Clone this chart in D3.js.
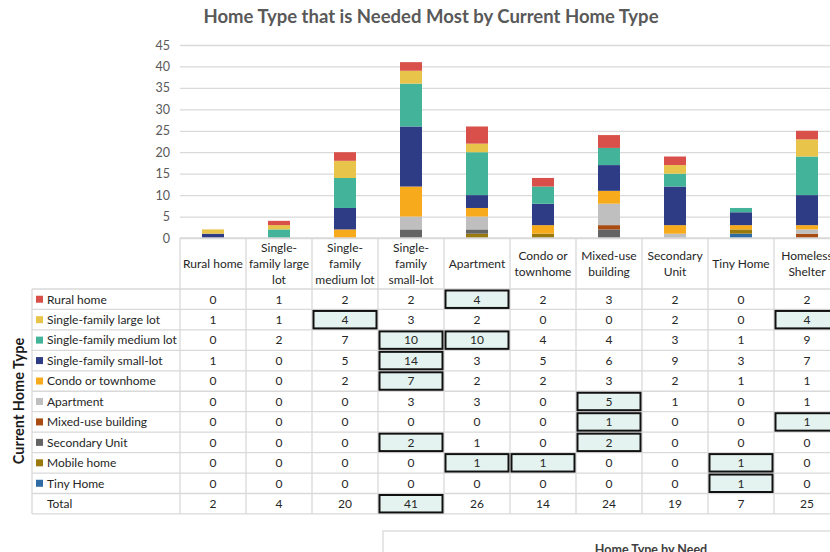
<!DOCTYPE html>
<html><head><meta charset="utf-8">
<script src="https://cdn.jsdelivr.net/npm/d3@7"></script>
<style>
html,body{margin:0;padding:0;background:#fff;overflow:hidden}
svg{display:block;font-family:Lato,"Open Sans",sans-serif}
</style></head>
<body><svg id="c" width="830" height="552"></svg>
<script>
const title = "Home Type that is Needed Most by Current Home Type";
const categories = ["Rural home","Single-family large lot","Single-family medium lot","Single-family small-lot","Apartment","Condo or townhome","Mixed-use building","Secondary Unit","Tiny Home","Homeless Shelter"];
const categoryLines = [["Rural home"],["Single-","family large","lot"],["Single-","family","medium lot"],["Single-","family","small-lot"],["Apartment"],["Condo or","townhome"],["Mixed-use","building"],["Secondary","Unit"],["Tiny Home"],["Homeless","Shelter"]];
const seriesNames = ["Rural home","Single-family large lot","Single-family medium lot","Single-family small-lot","Condo or townhome","Apartment","Mixed-use building","Secondary Unit","Mobile home","Tiny Home"];
const seriesColors = ["#D9504A","#E8C54A","#43B49A","#2E3C85","#F6AA1C","#BFBFBF","#A84C12","#646464","#9A7A0C","#2E6CA6"];
const ruralHome      = [0,1,2,2,4,2,3,2,0,2];
const largeLot       = [1,1,4,3,2,0,0,2,0,4];
const mediumLot      = [0,2,7,10,10,4,4,3,1,9];
const smallLot       = [1,0,5,14,3,5,6,9,3,7];
const condo          = [0,0,2,7,2,2,3,2,1,1];
const apartment      = [0,0,0,3,3,0,5,1,0,1];
const mixedUse       = [0,0,0,0,0,0,1,0,0,1];
const secondaryUnit  = [0,0,0,2,1,0,2,0,0,0];
const mobileHome     = [0,0,0,0,1,1,0,0,1,0];
const tinyHome       = [0,0,0,0,0,0,0,0,1,0];
const totals         = [2,4,20,41,26,14,24,19,7,25];
const yTicks = [0,5,10,15,20,25,30,35,40,45];
// highlighted cells: [row index (series, 10 = Total), column index]
const highlights = [[0,4],[1,2],[1,9],[2,3],[2,4],[3,3],[4,3],[5,6],[6,6],[6,9],[7,3],[7,6],[8,4],[8,5],[8,8],[9,8],[10,3]];
const yAxisTitle = "Current Home Type";
const bottomTitle = "Home Type by Need";

const values = [ruralHome,largeLot,mediumLot,smallLot,condo,apartment,mixedUse,secondaryUnit,mobileHome,tinyHome];

const svg = d3.select("#c");
const plotL = 180, plotR = 840, y0 = 238, y45 = 45;
const x = d3.scaleBand().domain(categories).range([plotL, plotR]).paddingInner(0).paddingOuter(0);
const y = d3.scaleLinear().domain([0,45]).range([y0, y45]);
const barW = 22;

// title
svg.append("text").attr("x",431).attr("y",23).attr("text-anchor","middle")
  .attr("font-size",18.5).attr("font-weight","bold").attr("fill","#595959").text(title);

// gridlines + y axis
const yAxis = d3.axisLeft(y).tickValues(yTicks).tickSize(-(830-plotL)).tickPadding(10);
const ga = svg.append("g").attr("transform",`translate(${plotL},0)`).call(yAxis);
ga.select(".domain").remove();
ga.selectAll(".tick line").attr("stroke","#D9D9D9").attr("stroke-width",1.3);
ga.selectAll(".tick text").attr("fill","#595959").attr("font-size",12.5).attr("font-family","Lato,sans-serif");

// stacked bars
const rows = categories.map((c,i)=>{const o={cat:c}; seriesNames.forEach((s,j)=>o[s]=values[j][i]); return o;});
const stackKeys = seriesNames.slice().reverse();
const stack = d3.stack().keys(stackKeys)(rows);
const color = d3.scaleOrdinal().domain(seriesNames).range(seriesColors);
svg.append("g").selectAll("g").data(stack).join("g").attr("fill",d=>color(d.key))
  .selectAll("rect").data(d=>d).join("rect")
  .attr("x",d=>x(d.data.cat)+x.bandwidth()/2-barW/2).attr("width",barW)
  .attr("y",d=>y(d[1])).attr("height",d=>y(d[0])-y(d[1]));

// table
const tblTop = 289, rowH = 20.45, nRows = 11, tblBot = tblTop + rowH*nRows;
const legL = 32;
const grid = svg.append("g").attr("stroke","#D9D9D9").attr("stroke-width",1.3);
grid.append("line").attr("x1",plotL).attr("x2",830).attr("y1",y0).attr("y2",y0);
for(let r=0;r<=nRows;r++){
  const yy = tblTop + r*rowH;
  grid.append("line").attr("x1",legL).attr("x2",830).attr("y1",yy).attr("y2",yy);
}
grid.append("line").attr("x1",legL).attr("x2",legL).attr("y1",tblTop).attr("y2",tblBot);
categories.forEach(c=>{
  grid.append("line").attr("x1",x(c)).attr("x2",x(c)).attr("y1",y0).attr("y2",tblBot);
});
grid.append("line").attr("x1",plotR).attr("x2",plotR).attr("y1",y0).attr("y2",tblBot);

// header labels
const hdr = svg.append("g").attr("font-size",12).attr("fill","#262626").attr("text-anchor","middle");
categoryLines.forEach((lines,i)=>{
  const cx = x(categories[i]) + x.bandwidth()/2;
  const lh = 16, midY = (y0+tblTop)/2 + 4;
  const startY = midY - (lines.length-1)*lh/2;
  const t = hdr.append("text").attr("x",cx);
  lines.forEach((ln,k)=>t.append("tspan").attr("x",cx).attr("y",startY+k*lh).text(ln));
});

// highlight boxes
const hl = svg.append("g");
highlights.forEach(([r,c])=>{
  hl.append("rect").attr("x",x(categories[c])+1.5).attr("y",tblTop+r*rowH+1.5)
    .attr("width",x.bandwidth()-3).attr("height",rowH-3)
    .attr("fill","#E4F3EF").attr("stroke","#111").attr("stroke-width",2);
});

// row labels + legend keys + values
const body = svg.append("g").attr("font-size",12).attr("fill","#262626");
const allRows = values.concat([totals]);
allRows.forEach((vals,r)=>{
  const cy = tblTop + r*rowH + rowH/2;
  if(r < seriesNames.length){
    body.append("rect").attr("x",36).attr("y",cy-3.5).attr("width",7).attr("height",7).attr("fill",seriesColors[r]);
    body.append("text").attr("x",47).attr("y",cy+4.3).text(seriesNames[r]);
  } else {
    body.append("text").attr("x",47).attr("y",cy+4.3).text("Total");
  }
  vals.forEach((v,i)=>{
    body.append("text").attr("x",x(categories[i])+x.bandwidth()/2).attr("y",cy+4.3)
      .attr("text-anchor","middle").text(v);
  });
});

// vertical axis title
svg.append("text").attr("transform","translate(24,401) rotate(-90)").attr("text-anchor","middle")
  .attr("font-size",14.5).attr("font-weight","bold").attr("fill","#1a1a1a").text(yAxisTitle);

// bottom (second chart) box
svg.append("rect").attr("x",383).attr("y",531).attr("width",480).attr("height",60)
  .attr("fill","#fff").attr("stroke","#D9D9D9").attr("stroke-width",1.3);
svg.append("text").attr("x",651).attr("y",554).attr("text-anchor","middle")
  .attr("font-size",12.5).attr("font-weight","bold").attr("fill","#404040").text(bottomTitle);
</script></body></html>
